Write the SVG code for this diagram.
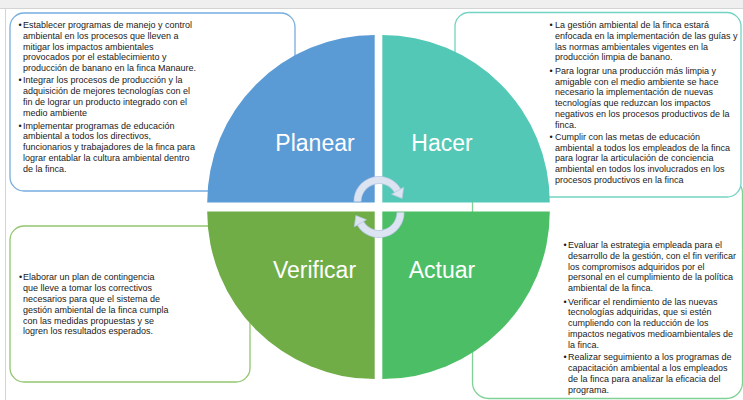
<svg xmlns="http://www.w3.org/2000/svg" width="743" height="400" viewBox="0 0 743 400">
<style>
.box{fill:#ffffff;stroke-width:1.3}
.t{font-family:"Liberation Sans",Arial,sans-serif;font-size:9px;fill:#1a1a1a}
.lbl{font-family:"Liberation Sans",Arial,sans-serif;font-size:23px;fill:#ffffff;text-anchor:middle}
.arcO{fill:none;stroke:#B7C8E4;stroke-width:8}
.arcI{fill:none;stroke:#DCE4F2;stroke-width:6.4}
.head{fill:#DCE4F2;stroke:#B7C8E4;stroke-width:0.7;stroke-linejoin:round}
</style>
<rect x="0" y="0" width="743" height="400" fill="#ffffff"/>
<rect x="0" y="0" width="743" height="8" fill="#EFEFEF"/>
<line x1="0" y1="8.5" x2="743" y2="8.5" stroke="#D4D4D4" stroke-width="1"/>
<line x1="5.5" y1="8.5" x2="5.5" y2="400" stroke="#D4D4D4" stroke-width="1"/>

<g id="box-actuar">
<rect class="box" x="472.5" y="177.5" width="270" height="221" rx="16" stroke="#7FD196"/>
<g class="t">
<text x="563.5" y="248">•</text>
<text x="568" y="248">Evaluar la estrategia empleada para el</text>
<text x="568" y="258.8">desarrollo de la gestión, con el fin verificar</text>
<text x="568" y="269.6">los compromisos adquiridos por el</text>
<text x="568" y="280.4">personal en el cumplimiento de la política</text>
<text x="568" y="291.2">ambiental de la finca.</text>
<text x="563.5" y="304.5">•</text>
<text x="568" y="304.5">Verificar el rendimiento de las nuevas</text>
<text x="568" y="315.3">tecnologías adquiridas, que si estén</text>
<text x="568" y="326.1">cumpliendo con la reducción de los</text>
<text x="568" y="336.9">impactos negativos medioambientales de</text>
<text x="568" y="347.7">la finca.</text>
<text x="563.5" y="360.3">•</text>
<text x="568" y="360.3">Realizar seguimiento a los programas de</text>
<text x="568" y="371.1">capacitación ambiental a los empleados</text>
<text x="568" y="381.9">de la finca para analizar la eficacia del</text>
<text x="568" y="392.7">programa.</text>
</g>
</g>

<g id="box-planear">
<rect class="box" x="10" y="13" width="285" height="178" rx="14" stroke="#78ADDF"/>
<g class="t">
<text x="18.5" y="28">•</text>
<text x="23" y="28">Establecer programas de manejo y control</text>
<text x="23" y="38.8">ambiental en los procesos que lleven a</text>
<text x="23" y="49.6">mitigar los impactos ambientales</text>
<text x="23" y="60.4">provocados por el establecimiento y</text>
<text x="23" y="71.2">producción de banano en la finca Manaure.</text>
<text x="18.5" y="83.3">•</text>
<text x="23" y="83.3">Integrar los procesos de producción y la</text>
<text x="23" y="94.1">adquisición de mejores tecnologías con el</text>
<text x="23" y="104.9">fin de lograr un producto integrado con el</text>
<text x="23" y="115.7">medio ambiente</text>
<text x="18.5" y="128.5">•</text>
<text x="23" y="128.5">Implementar programas de educación</text>
<text x="23" y="139.3">ambiental a todos los directivos,</text>
<text x="23" y="150.1">funcionarios y trabajadores de la finca para</text>
<text x="23" y="160.9">lograr entablar la cultura ambiental dentro</text>
<text x="23" y="171.7">de la finca.</text>
</g>
</g>

<g id="box-hacer">
<rect class="box" x="455" y="12.5" width="286" height="184.5" rx="14" stroke="#72D3C3"/>
<g class="t">
<text x="549.5" y="28">•</text>
<text x="555" y="28">La gestión ambiental de la finca estará</text>
<text x="555" y="38.8">enfocada en la implementación de las guías y</text>
<text x="555" y="49.6">las normas ambientales vigentes en la</text>
<text x="555" y="60.4">producción limpia de banano.</text>
<text x="549.5" y="73.7">•</text>
<text x="555" y="73.7">Para lograr una producción más limpia y</text>
<text x="555" y="84.5">amigable con el medio ambiente se hace</text>
<text x="555" y="95.3">necesario la implementación de nuevas</text>
<text x="555" y="106.1">tecnologías que reduzcan los impactos</text>
<text x="555" y="116.9">negativos en los procesos productivos de la</text>
<text x="555" y="127.7">finca.</text>
<text x="549.5" y="139.7">•</text>
<text x="555" y="139.7">Cumplir con las metas de educación</text>
<text x="555" y="150.5">ambiental a todos los empleados de la finca</text>
<text x="555" y="161.3">para lograr la articulación de conciencia</text>
<text x="555" y="172.1">ambiental en todos los involucrados en los</text>
<text x="555" y="182.9">procesos productivos en la finca</text>
</g>
</g>

<g id="box-verificar">
<rect class="box" x="10" y="226" width="240" height="156" rx="14" stroke="#93C66E"/>
<g class="t">
<text x="19" y="280.3">•</text>
<text x="23" y="280.3">Elaborar un plan de contingencia</text>
<text x="23" y="291.1">que lleve a tomar los correctivos</text>
<text x="23" y="301.9">necesarios para que el sistema de</text>
<text x="23" y="312.7">gestión ambiental de la finca cumpla</text>
<text x="23" y="323.5">con las medidas propuestas y se</text>
<text x="23" y="334.3">logren los resultados esperados.</text>
</g>
</g>

<g id="node-planear">
<path d="M374.7,202.6 L207.2,202.6 A167.5,167.5 0 0 1 374.7,35.1 Z" fill="#5B9BD5"/>
<text class="lbl" x="315" y="150.5">Planear</text>
</g>
<g id="node-hacer">
<path d="M382.3,202.6 L382.3,35.1 A167.5,167.5 0 0 1 549.8,202.6 Z" fill="#54C8B6"/>
<text class="lbl" x="442" y="150.5">Hacer</text>
</g>
<g id="node-verificar">
<path d="M374.7,211.6 L374.7,379.1 A167.5,167.5 0 0 1 207.2,211.6 Z" fill="#70AD47"/>
<text class="lbl" x="314.5" y="278.3">Verificar</text>
</g>
<g id="node-actuar">
<path d="M382.3,211.6 L549.8,211.6 A167.5,167.5 0 0 1 382.3,379.1 Z" fill="#4CBF66"/>
<text class="lbl" x="442" y="278.3">Actuar</text>
</g>

<g id="connectors">
<path class="arcO" d="M357.5,201.5 A21.5,21.5 0 0 1 397.6,190.75"/>
<path class="arcI" d="M357.5,201.5 A21.5,21.5 0 0 1 397.6,190.75"/>
<polygon class="head" points="403.7,187.25 391.5,194.25 402.1,198.5"/>
<path class="arcO" d="M400.5,212.5 A21.5,21.5 0 0 1 360.4,223.25"/>
<path class="arcI" d="M400.5,212.5 A21.5,21.5 0 0 1 360.4,223.25"/>
<polygon class="head" points="354.3,226.75 366.5,219.75 355.9,215.5"/>
</g>
</svg>
